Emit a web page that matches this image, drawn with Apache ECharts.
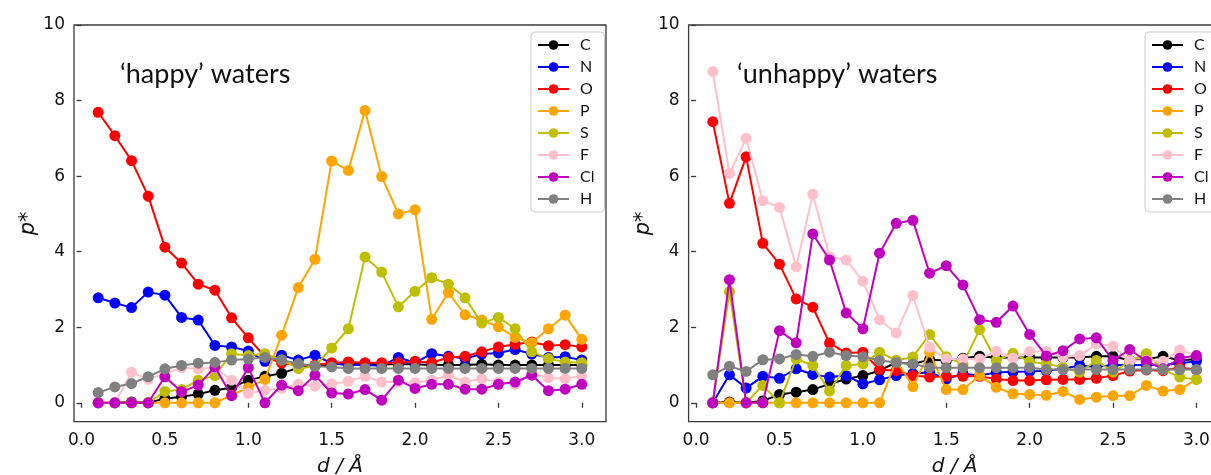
<!DOCTYPE html>
<html>
<head>
<meta charset="utf-8">
<script src="https://cdn.jsdelivr.net/npm/echarts@6/dist/echarts.min.js"></script>
<style>
html,body{margin:0;padding:0;background:#fff;}
#chart{width:1211px;height:475px;}
</style>
</head>
<body>
<div id="chart"></div>
<script>
// distances d / Å
const dValues = [0.1,0.2,0.3,0.4,0.5,0.6,0.7,0.8,0.9,1.0,1.1,1.2,1.3,1.4,1.5,1.6,1.7,1.8,1.9,2.0,2.1,2.2,2.3,2.4,2.5,2.6,2.7,2.8,2.9,3.0];
const xTicks = [0,0.5,1.0,1.5,2.0,2.5,3.0];
const yTicks = [0,2,4,6,8,10];
const elements = ['C','N','O','P','S','F','Cl','H'];
const colors = ['#000000','#0000ff','#ff0000','#ffa500','#bfbf00','#ffc0cb','#bf00bf','#808080'];

// 'happy' waters
const happyC  = [0,0,0.02,0,0.11,0.16,0.23,0.33,0.4,0.6,0.7,0.78,0.93,0.97,1.0,1.07,1.02,1.02,1.02,1.02,1.0,1.0,1.0,1.02,1.0,1.0,1.0,1.0,1.0,1.0];
const happyN  = [2.78,2.64,2.52,2.93,2.85,2.26,2.19,1.52,1.48,1.37,1.1,1.26,1.13,1.26,1.04,1.0,1.0,0.98,1.2,1.06,1.3,1.23,1.17,1.29,1.32,1.41,1.29,1.2,1.22,1.13];
const happyO  = [7.69,7.07,6.41,5.47,4.12,3.70,3.14,2.98,2.25,1.72,1.22,1.05,1.0,1.0,1.06,1.08,1.06,1.06,1.06,1.1,1.06,1.2,1.23,1.35,1.48,1.55,1.61,1.51,1.54,1.48];
const happyP  = [0,0,0,0,0,0,0,0,0.2,0.4,0.62,1.79,3.05,3.80,6.40,6.15,7.74,5.99,5.0,5.11,2.21,2.92,2.33,2.19,2.01,1.73,1.59,1.96,2.32,1.68];
const happyS  = [0,0,0,0,0.3,0.35,0.6,0.72,1.3,1.25,1.3,1.13,0.91,0.97,1.45,1.96,3.86,3.46,2.54,2.95,3.31,3.14,2.78,2.11,2.26,1.96,1.35,1.17,1.08,1.06];
const happyF  = [0,0,0.81,0.62,0.78,0.93,0.9,0.93,0.6,0.25,0.33,0.38,0.49,0.44,0.5,0.57,0.7,0.55,0.55,0.53,0.6,0.73,0.55,0.64,0.55,0.49,0.78,0.66,0.64,0.71];
const happyCl = [0,0,0,0,0.69,0.29,0.47,0.95,0.19,0.93,0,0.47,0.32,0.73,0.26,0.23,0.35,0.07,0.6,0.38,0.49,0.49,0.36,0.36,0.49,0.55,0.73,0.32,0.36,0.49];
const happyH  = [0.27,0.42,0.51,0.69,0.90,0.99,1.05,1.07,1.13,1.16,1.2,1.13,1.04,0.97,0.95,0.91,0.91,0.91,0.91,0.91,0.91,0.91,0.91,0.91,0.91,0.91,0.91,0.91,0.91,0.91];

// 'unhappy' waters
const unhappyC  = [0,0.02,0,0.05,0.22,0.28,0.35,0.5,0.63,0.72,0.85,1.07,1.03,1.14,1.12,1.18,1.23,1.19,1.2,1.2,1.2,1.2,1.2,1.23,1.23,1.12,1.15,1.23,1.12,1.16];
const unhappyN  = [0,0.74,0.39,0.7,0.65,0.9,0.75,0.68,0.72,0.5,0.61,0.72,0.77,0.81,0.63,0.77,0.72,0.8,0.82,0.83,0.85,0.9,0.99,0.95,1.0,1.0,1.0,1.0,1.05,1.1];
const unhappyO  = [7.44,5.28,6.51,4.22,3.67,2.75,2.53,1.58,1.32,1.34,0.88,0.85,0.72,0.68,0.7,0.7,0.7,0.63,0.59,0.59,0.61,0.62,0.62,0.65,0.72,0.84,0.87,0.85,0.94,0.87];
const unhappyP  = [0,0,0,0,0,0,0,0,0,0,0,1.12,0.43,1.34,0.35,0.35,0.72,0.41,0.24,0.22,0.2,0.3,0.09,0.15,0.19,0.19,0.46,0.31,0.35,0.62];
const unhappyS  = [0,2.94,0,0.46,0,1.16,0.99,0.31,0.99,1.03,1.34,1.12,1.21,1.81,1.22,1.03,1.94,1.12,1.31,1.09,1.03,0.94,0.81,1.12,0.81,1.1,1.3,0.88,0.68,0.62];
const unhappyF  = [8.77,6.07,7.0,5.35,5.17,3.6,5.52,3.87,3.78,3.22,2.2,1.85,2.84,1.47,1.16,1.16,1.16,1.36,1.18,1.36,1.36,1.21,1.25,1.56,1.5,1.12,1.12,1.1,1.4,1.25];
const unhappyCl = [0,3.26,0,0,1.91,1.59,4.47,3.78,2.38,1.96,3.96,4.75,4.83,3.43,3.63,3.12,2.2,2.13,2.56,1.81,1.24,1.38,1.69,1.72,1.12,1.41,1.1,0.9,1.18,1.25];
const unhappyH  = [0.74,0.97,0.83,1.14,1.16,1.28,1.23,1.34,1.25,1.22,1.12,1.07,1.03,0.93,0.93,0.93,0.93,0.93,0.93,0.93,0.88,0.88,0.88,0.88,0.88,0.88,0.88,0.88,0.88,0.88];

const titles = ['\u2018happy\u2019 waters', '\u2018unhappy\u2019 waters'];
const panels = [
  [happyC, happyN, happyO, happyP, happyS, happyF, happyCl, happyH],
  [unhappyC, unhappyN, unhappyO, unhappyP, unhappyS, unhappyF, unhappyCl, unhappyH]
];

const chart = echarts.init(document.getElementById('chart'), null, {renderer: 'canvas'});
const axisColor = '#3a3a3a';
const tickFont = {fontFamily: 'DejaVu Sans', fontSize: 17, color: '#111'};

function makeX(i) {
  return {
    gridIndex: i, type: 'value', min: -0.045, max: 3.145,
    name: 'd / \u00c5', nameLocation: 'middle', nameGap: 35,
    nameTextStyle: {fontFamily: 'DejaVu Sans', fontStyle: 'italic', fontSize: 20, color: '#111'},
    axisLine: {show: false},
    splitLine: {show: false},
    axisTick: {show: true, inside: false, length: 5, lineStyle: {color: axisColor, width: 1.3}, customValues: xTicks},
    axisLabel: Object.assign({margin: 10, customValues: xTicks, formatter: v => v.toFixed(1)}, tickFont)
  };
}
function makeY(i) {
  return {
    gridIndex: i, type: 'value', min: -0.5, max: 10,
    name: 'p*', nameLocation: 'middle', nameGap: 34, nameRotate: 90,
    nameTextStyle: {fontFamily: 'DejaVu Sans', fontStyle: 'italic', fontSize: 21, color: '#111'},
    axisLine: {show: false},
    splitLine: {show: false},
    axisTick: {show: true, inside: false, length: 5, lineStyle: {color: axisColor, width: 1.3}, customValues: yTicks},
    axisLabel: Object.assign({margin: 9, customValues: yTicks, formatter: v => String(v)}, tickFont)
  };
}

const series = [];
panels.forEach((vals, p) => {
  elements.forEach((el, k) => {
    series.push({
      name: el, type: 'line', xAxisIndex: p, yAxisIndex: p,
      data: dValues.map((d, j) => [d, vals[k][j]]),
      symbol: 'circle', symbolSize: 11,
      itemStyle: {color: colors[k]},
      lineStyle: {color: colors[k], width: 2},
      emphasis: {disabled: true},
      z: 2 + k
    });
  });
});

function makeLegend(left) {
  return {
    orient: 'vertical', left: left, top: 32,
    data: elements,
    itemWidth: 31, itemHeight: 12, itemGap: 6,
    padding: [5, 10, 5, 6],
    backgroundColor: '#fff', borderColor: '#cccccc', borderWidth: 1, borderRadius: 4,
    textStyle: {fontFamily: 'Lato', fontSize: 16, lineHeight: 16, color: '#111', padding: [0, 0, 0, 6]},
    selectedMode: false
  };
}

const gridBase = {top: 25, width: 532, height: 396.7, show: true, borderColor: axisColor, borderWidth: 1.3,
  backgroundColor: 'transparent', containLabel: false, outerBoundsMode: 'none'};

chart.setOption({
  animation: false,
  backgroundColor: '#fff',
  title: [
    {text: titles[0], left: 120, top: 61, textStyle: {fontFamily: 'Lato', fontSize: 27, fontWeight: 'normal', color: '#111'}, padding: 0},
    {text: titles[1], left: 737, top: 61, textStyle: {fontFamily: 'Lato', fontSize: 27, fontWeight: 'normal', color: '#111'}, padding: 0}
  ],
  grid: [
    Object.assign({left: 74}, gridBase),
    Object.assign({left: 688.6}, gridBase)
  ],
  xAxis: [makeX(0), makeX(1)],
  yAxis: [makeY(0), makeY(1)],
  legend: [makeLegend(531), makeLegend(1145)],
  series: series
});
</script>
</body>
</html>
